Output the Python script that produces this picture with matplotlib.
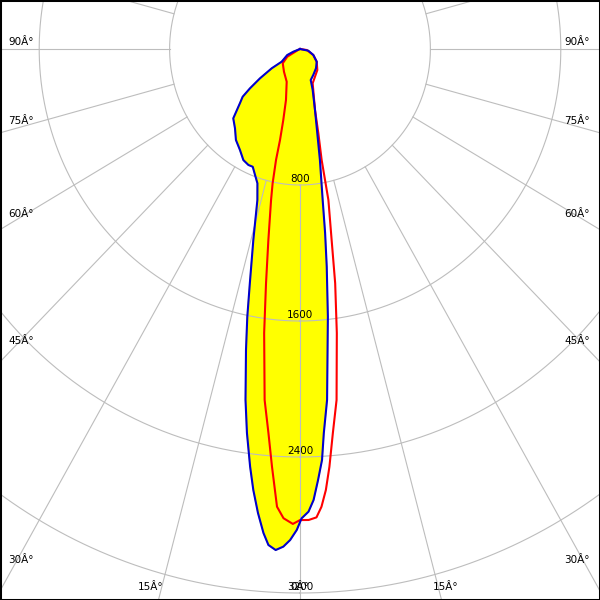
import numpy as np
import matplotlib
matplotlib.use('Agg')
import matplotlib.pyplot as plt

# C0-C180 plane (filled), gamma in degrees from nadir (negative = left side), intensity in cd
blue_gamma = [-90, -68.9, -65.6, -56.4, -56.8, -54.9, -53.0, -51.4, -49.2, -45.1, -40.5, -36.3, -31.8,
              -28.0, -24.9, -22.7, -20.4, -18.3, -16.4, -14.3, -12.6, -11.6, -10.6, -9.2, -8.2, -7.1,
              -6.3, -5.4, -4.5, -3.8, -2.9, -2.0, -1.2, -0.4, 0.2, 1.1, 1.8, 2.5, 3.2, 3.7, 4.6, 6.2,
              7.3, 8.1, 8.9, 10.6, 12.1, 14.4, 17.9, 19.8, 28.1, 40.8, 53.9, 66.6, 78.9, 90]
blue_cd = [0, 44, 86, 135, 207, 300, 384, 450, 486, 578, 614, 664, 699,
           740, 752, 751, 791, 832, 926, 1159, 1410, 1608, 1801, 2091, 2282, 2476,
           2610, 2741, 2856, 2924, 2951, 2929, 2889, 2829, 2761, 2722, 2654, 2538, 2421, 2264, 2071, 1584,
           1291, 1093, 899, 664, 505, 370, 253, 194, 173, 150, 127, 89, 52, 0]

# C90-C270 plane (outline only)
red_gamma = [-90, -64.4, -59.8, -51.6, -36.3, -23.0, -16.0, -13.8, -12.9, -12.7, -12.0, -11.3, -9.8,
             -8.6, -7.5, -6.0, -4.9, -4.0, -3.0, -2.1, -0.9, 0.0, 1.1, 2.1, 2.8, 3.5, 4.2, 5.1,
             6.2, 7.7, 8.9, 9.8, 11.1, 11.5, 12.8, 14.4, 21.1, 29.5, 40.7, 53.9, 66.6, 81.9, 90]
red_cd = [0, 14, 90, 135, 166, 209, 312, 430, 549, 669, 808, 906, 1140,
          1394, 1685, 2076, 2267, 2463, 2696, 2762, 2794, 2771, 2771, 2757, 2696, 2599, 2464, 2268,
          2077, 1686, 1395, 1140, 905, 666, 508, 370, 216, 187, 163, 127, 89, 42, 0]

rings = [800, 1600, 2400, 3200, 4000]
ring_labels = ['800', '1600', '2400', '3200']
spokes = np.arange(0, 360, 15)

angle_labels = ['90Â°', '75Â°', '60Â°', '45Â°', '30Â°', '15Â°', '0Â°']


def to_xy(gamma, cd):
    g = np.radians(np.asarray(gamma, dtype=float))
    r = np.asarray(cd, dtype=float)
    return r * np.sin(g), r * np.cos(g)


fig = plt.figure(figsize=(6, 6), dpi=100)
ax = fig.add_axes([0, 0, 1, 1])
# pixel scale of the original: 0.163 px/cd across, 0.17 px/cd down, pole at (300, 49)
ax.set_xlim(-300 / 0.163, 300 / 0.163)
ax.set_ylim((600 - 49) / 0.17, -49 / 0.17)
ax.set_aspect('auto')
ax.set_xticks([])
ax.set_yticks([])
for s in ax.spines.values():
    s.set_color('black')
    s.set_linewidth(2.2)

grid_c = '#bdbdbd'
t = np.linspace(0, 2 * np.pi, 721)
for r in rings:
    ax.plot(r * np.sin(t), r * np.cos(t), color=grid_c, lw=0.8, zorder=2)
for a in spokes:
    x, y = to_xy([a, a], [rings[0], rings[-1]])
    ax.plot(x, y, color=grid_c, lw=0.8, zorder=2)

bx, by = to_xy(blue_gamma, blue_cd)
ax.fill(bx, by, color='#ffff00', zorder=1)
rx, ry = to_xy(red_gamma, red_cd)
ax.plot(rx, ry, color='#ff0000', lw=1.5, zorder=3)
ax.plot(bx, by, color='#0000d0', lw=1.5, zorder=4)

for r, lab in zip(rings, ring_labels):
    ax.text(0, r - 35, lab, ha='center', va='center', fontsize=7.5, zorder=5)

# angle labels, figure pixel positions (x, y from top)
left_pos = [(21, 42), (21, 121), (21, 214), (21, 341), (21, 560), (151, 587)]
right_pos = [(577, 42), (577, 121), (577, 214), (577, 341), (577, 560), (446, 587)]
for lab, (x, y) in zip(angle_labels[:-1], left_pos):
    fig.text(x / 600, 1 - y / 600, lab, ha='center', va='center', fontsize=7.5)
for lab, (x, y) in zip(angle_labels[:-1], right_pos):
    fig.text(x / 600, 1 - y / 600, lab, ha='center', va='center', fontsize=7.5)
fig.text(300 / 600, 1 - 587 / 600, angle_labels[-1], ha='center', va='center', fontsize=7.5)

fig.savefig('out.png')
